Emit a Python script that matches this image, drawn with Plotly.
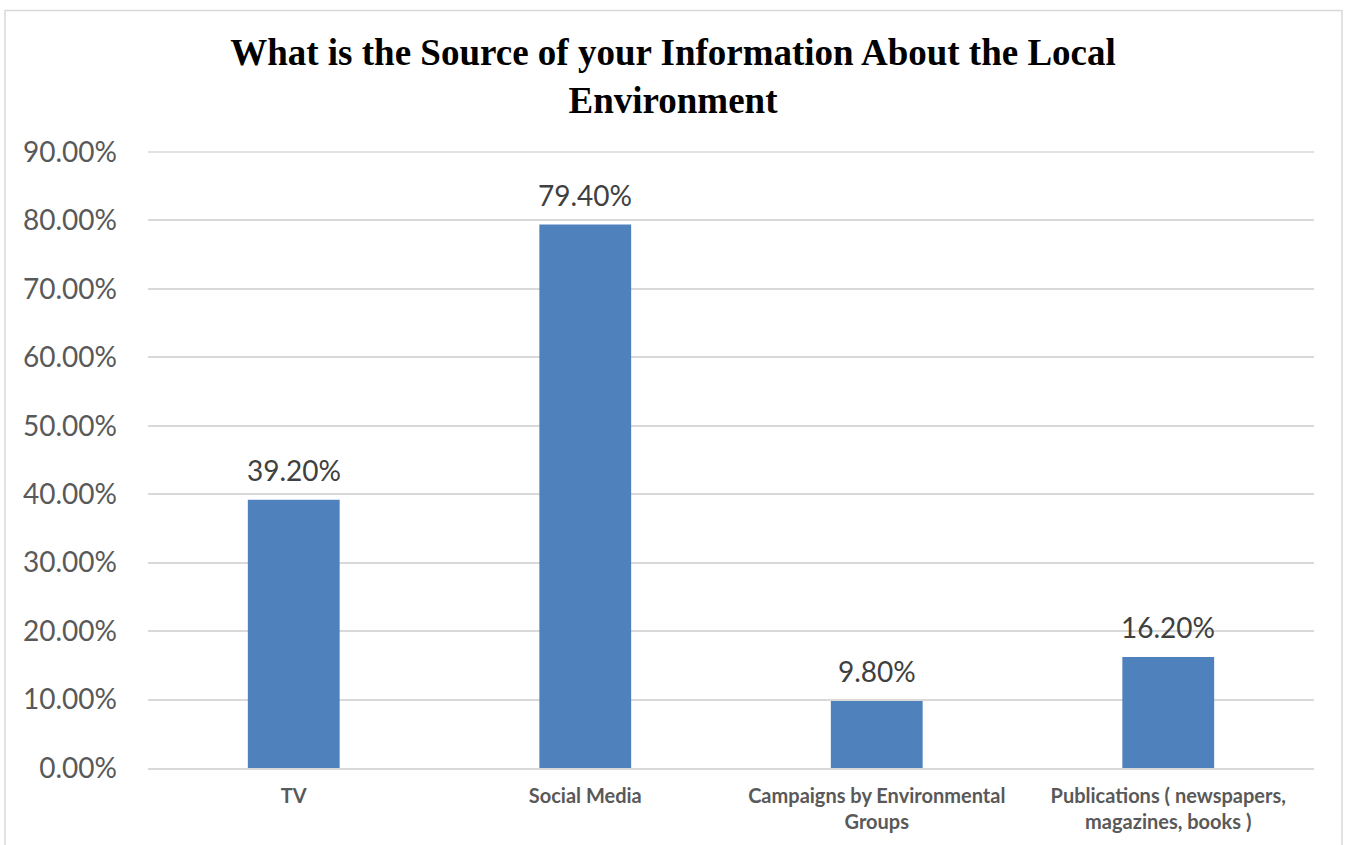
import plotly.graph_objects as go

categories = ["TV", "Social Media", "Campaigns by Environmental<br>Groups",
              "Publications ( newspapers,<br>magazines, books )"]
values = [0.392, 0.794, 0.098, 0.162]
value_labels = ["39.20%", "79.40%", "9.80%", "16.20%"]
y_ticks = [0, 0.1, 0.2, 0.3, 0.4, 0.5, 0.6, 0.7, 0.8, 0.9]
y_tick_labels = ["0.00%", "10.00%", "20.00%", "30.00%", "40.00%", "50.00%",
                 "60.00%", "70.00%", "80.00%", "90.00%"]
title_text = "What is the Source of your Information About the Local<br>Environment"

W, H = 1346, 845
ml, mr, mt, mb = 148, 32, 152, 75

fig = go.Figure()
fig.add_trace(go.Bar(
    x=categories, y=values,
    marker=dict(color="#4F81BD", line=dict(width=0)),
    width=0.315,
    hoverinfo="skip",
))

for c, v, t in zip(categories, values, value_labels):
    fig.add_annotation(x=c, y=v, text=t, showarrow=False, yanchor="bottom",
                       yshift=11, font=dict(family="Lato", size=28, color="#404040"))

pw = W - ml - mr
ph = H - mt - mb
fig.add_shape(type="rect", xref="paper", yref="paper",
              x0=(5 - ml) / pw, x1=(1342 - ml) / pw,
              y0=(H - mb - 860) / ph, y1=(H - mb - 10) / ph,
              line=dict(color="#d9d9d9", width=1.5), fillcolor="rgba(0,0,0,0)", layer="below")
# top gridline at the top of the range (plotly omits the grid line at the edge)
fig.add_shape(type="line", xref="paper", yref="paper", x0=0, x1=1,
              y0=1, y1=1,
              line=dict(color="#d9d9d9", width=1.5), layer="below")

fig.update_layout(
    width=W, height=H,
    margin=dict(l=ml, r=mr, t=mt, b=mb, pad=0),
    paper_bgcolor="white", plot_bgcolor="white",
    showlegend=False,
    title=dict(text=title_text, x=0.5, xanchor="center", xref="container",
               y=1 - 65 / H, yanchor="top", yref="container",
               font=dict(family="Liberation Serif", size=37, color="black", weight="bold")),
    bargap=0.685,
)
fig.update_xaxes(
    showgrid=False, showline=True, linecolor="#d9d9d9", linewidth=1.5,
    tickfont=dict(family="Lato", size=20, color="#595959", weight="bold"),
    ticks="", ticklabelstandoff=9, fixedrange=True,
)
fig.update_yaxes(
    range=[0, y_ticks[-1]], tickvals=y_ticks, ticktext=y_tick_labels,
    showgrid=True, gridcolor="#d9d9d9", gridwidth=1.5, zeroline=False,
    showline=False, ticks="", ticklabelstandoff=30,
    tickfont=dict(family="Lato", size=28, color="#595959"), fixedrange=True,
)

fig.write_html("out.html", config={"displayModeBar": False},
               post_script="document.body.style.margin='0px';")
